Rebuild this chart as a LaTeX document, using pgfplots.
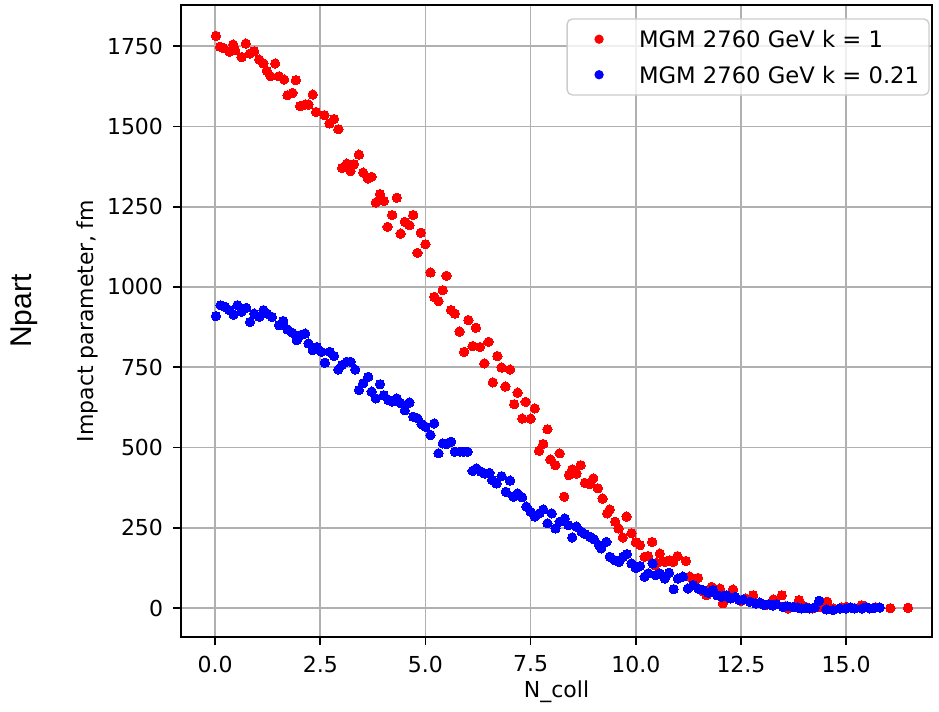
\documentclass[border=0pt]{standalone}
\usepackage{fontspec}
\setmainfont{DejaVu Sans}
\newfontfamily\npartfont{Liberation Sans}
\usepackage{pgfplots}
\pgfplotsset{compat=1.18}
\usepackage{pgfplotstable}

\definecolor{gridgray}{RGB}{176,176,176}
\definecolor{legframe}{RGB}{204,204,204}
\definecolor{mplred}{RGB}{255,0,0}
\definecolor{mplblue}{RGB}{0,0,255}

% k = 1
\pgfplotstableread{
x y
0.02 1782
0.12 1748
0.20 1744
0.34 1732
0.43 1755
0.48 1737
0.63 1716
0.73 1758
0.83 1727
0.93 1734
1.05 1708
1.15 1696
1.23 1673
1.32 1656
1.43 1696
1.52 1656
1.64 1646
1.72 1597
1.84 1604
1.92 1644
2.02 1563
2.14 1568
2.22 1568
2.32 1599
2.40 1545
2.60 1535
2.72 1509
2.83 1523
2.93 1491
3.02 1371
3.13 1384
3.22 1361
3.30 1382
3.42 1412
3.52 1356
3.63 1338
3.72 1343
3.82 1263
3.92 1289
4.01 1268
4.10 1187
4.21 1224
4.32 1278
4.41 1166
4.51 1203
4.62 1192
4.71 1224
4.81 1106
4.89 1169
5.00 1133
5.12 1045
5.21 969
5.31 956
5.41 990
5.50 1035
5.61 928
5.70 917
5.81 861
5.92 798
6.02 897
6.12 816
6.20 873
6.30 813
6.40 762
6.50 829
6.60 703
6.71 785
6.81 749
6.90 690
7.01 743
7.11 635
7.19 671
7.30 590
7.38 642
7.50 590
7.60 622
7.70 490
7.80 511
7.90 557
7.97 463
8.09 445
8.19 482
8.30 347
8.41 414
8.49 432
8.59 419
8.69 445
8.79 390
8.91 386
8.99 404
9.10 373
9.21 341
9.32 295
9.38 307
9.51 269
9.59 248
9.69 220
9.78 285
9.90 233
10.00 205
10.10 196
10.21 160
10.29 162
10.39 206
10.45 134
10.50 141
10.57 170
10.69 144
10.81 149
10.89 144
10.99 162
11.19 147
11.28 98
11.40 82
11.48 94
11.60 52
11.68 40
11.80 66
12.00 61
12.07 15
12.27 46
12.31 58
12.50 22
12.61 30
12.79 40
12.92 15
13.10 10
13.27 27
13.47 40
13.55 6
13.62 -1
13.88 25
14.02 5
14.20 -1
14.40 3
14.55 20
14.69 -1
14.90 2
15.00 4
15.20 0
15.37 9
15.54 0
15.70 3
16.05 0
16.47 1
}\redtable

% k = 0.21
\pgfplotstableread{
x y
0.02 909
0.13 943
0.24 938
0.34 928
0.44 914
0.53 943
0.63 923
0.74 935
0.83 891
0.93 917
1.05 907
1.15 928
1.24 917
1.35 907
1.52 881
1.62 894
1.72 868
1.84 857
1.94 834
2.03 850
2.14 855
2.22 824
2.32 803
2.42 813
2.53 798
2.61 764
2.73 798
2.83 785
2.93 743
3.02 757
3.13 767
3.22 767
3.33 743
3.42 679
3.52 700
3.64 720
3.72 674
3.82 653
3.92 697
4.01 663
4.12 648
4.21 643
4.32 653
4.41 638
4.51 616
4.62 640
4.71 596
4.81 591
4.91 573
5.00 565
5.12 539
5.21 575
5.31 482
5.41 513
5.50 511
5.61 518
5.70 487
5.82 487
5.91 487
6.00 487
6.12 427
6.21 435
6.32 425
6.41 419
6.52 421
6.58 399
6.69 388
6.81 411
6.91 362
7.01 397
7.09 347
7.19 357
7.30 345
7.40 316
7.50 300
7.60 285
7.71 295
7.80 307
7.90 264
8.00 295
8.09 248
8.19 269
8.31 279
8.40 258
8.49 220
8.59 254
8.71 238
8.80 230
8.91 222
9.01 214
9.13 196
9.18 186
9.30 206
9.38 160
9.50 149
9.60 144
9.70 160
9.79 168
9.90 139
10.00 125
10.10 131
10.21 98
10.29 108
10.40 139
10.47 103
10.57 108
10.69 92
10.79 110
10.90 59
11.00 92
11.12 98
11.24 61
11.36 72
11.48 61
11.60 56
11.72 48
11.83 56
11.93 40
12.04 35
12.15 40
12.25 30
12.36 35
12.45 25
12.55 27
12.71 20
12.85 14
12.95 17
13.05 10
13.15 12
13.25 8
13.34 12
13.50 4
13.60 6
13.74 4
13.85 2
13.94 -1
14.05 1
14.13 -1
14.25 2
14.36 23
14.53 -4
14.69 -6
14.85 -1
15.00 -1
15.10 2
15.20 -1
15.38 -1
15.48 3
15.56 -1
15.68 1
15.80 2
}\bluetable

\begin{document}
\begin{tikzpicture}
\path[use as bounding box] (0pt,0pt) rectangle (704.25pt,-533.25pt);
\begin{axis}[
    at={(135.75pt,-477.75pt)}, anchor=south west,
    scale only axis,
    width=563.25pt, height=474pt,
    xmin=-0.81, xmax=17.04,
    ymin=-90, ymax=1878,
    xtick={0,2.5,...,15},
    ytick={0,250,...,1750},
    /pgf/number format/assume math mode=true,
    xticklabel style={/pgf/number format/fixed, /pgf/number format/fixed zerofill, /pgf/number format/precision=1, inner ysep=8pt},
    yticklabel style={/pgf/number format/1000 sep={}, inner xsep=7.5pt},
    tick label style={font=\fontsize{16.5}{19.8}\selectfont},
    label style={font=\fontsize{16.5}{19.8}\selectfont},
    tick align=outside,
    major tick length=5.8pt,
    every tick/.style={black, line width=1.3pt},
    xtick pos=bottom, ytick pos=left,
    axis line style={black, line width=1.3pt},
    grid=major,
    major grid style={gridgray, line width=1.3pt},
    xlabel={N\_coll},
    ylabel={Impact parameter, fm},
    xlabel style={at={(axis description cs:0.5,-0.087)}, anchor=center},
    ylabel style={at={(axis description cs:-0.1252,0.5)}, anchor=center},
    legend cell align=left,
    legend style={at={(rel axis cs:0.997,0.979)}, anchor=north east,
        draw=legframe, line width=1pt, rounded corners=4pt,
        fill=white, fill opacity=0.8, text opacity=1,
        font=\fontsize{17}{20.4}\selectfont,
        inner xsep=3.75pt, inner ysep=7pt, row sep=10.25pt,
        nodes={text height=12.4pt, text depth=0pt, inner xsep=3.75pt, inner ysep=2pt}},
    legend image code/.code={
        \path[draw=none, fill=none] (0pt,-3pt) rectangle (46.5pt,3pt);
        \fill[draw=none, fill opacity=1] (20.25pt,0pt) circle (3.5pt);
    },
]
\addplot[only marks, color=mplred, mark=*, mark size=3.5pt, mark options={draw=mplred, fill=mplred, line width=0pt}] table {\redtable};
\addlegendentry{MGM 2760 GeV k = 1}
\addplot[only marks, color=mplblue, mark=*, mark size=3.5pt, mark options={draw=mplblue, fill=mplblue, line width=0pt}] table {\bluetable};
\addlegendentry{MGM 2760 GeV k = 0.21}
\end{axis}
\node[rotate=90, font=\npartfont\fontsize{22.5}{27}\selectfont] at (18pt,-233.25pt) {Npart};
\end{tikzpicture}
\end{document}
